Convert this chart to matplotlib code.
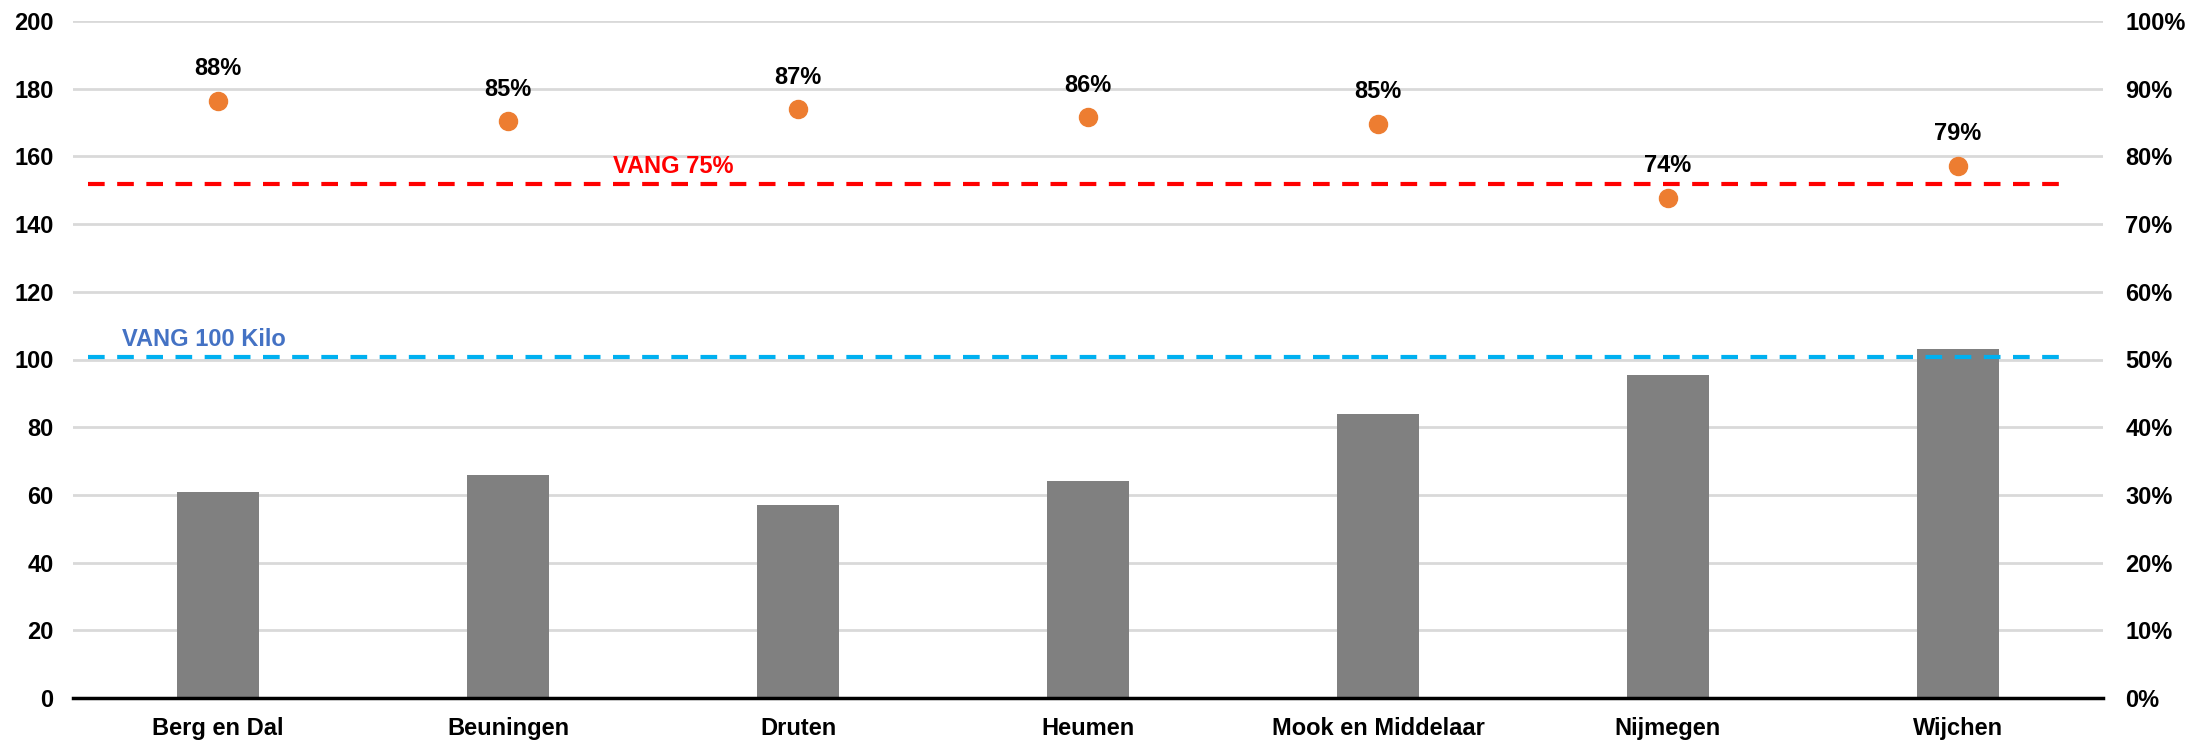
import matplotlib
matplotlib.use("Agg")
import matplotlib.pyplot as plt
from matplotlib.ticker import PercentFormatter, MultipleLocator

categories = ["Berg en Dal", "Beuningen", "Druten", "Heumen", "Mook en Middelaar", "Nijmegen", "Wijchen"]
kilo = [61, 66, 57, 64, 84, 95.5, 103]
pct = [0.882, 0.852, 0.870, 0.858, 0.848, 0.739, 0.786]
pct_labels = ["88%", "85%", "87%", "86%", "85%", "74%", "79%"]
target_pct = 0.759
target_kilo = 100.8

plt.rcParams['font.family'] = ['Liberation Sans', 'DejaVu Sans']
plt.rcParams['font.weight'] = 'bold'

fig = plt.figure(figsize=(22.07, 7.41), dpi=100)
ax = fig.add_axes([73/2207, 1-698/741, (2103-73)/2207, (698-21)/741])
ax2 = ax.twinx()

x = list(range(len(categories)))
ax.set_axisbelow(True)
ax.bar(x, kilo, width=0.286, color='#808080', zorder=2)
ax.set_xlim(-0.5, 6.5)
ax.set_ylim(0, 200)
ax.yaxis.set_major_locator(MultipleLocator(20))
ax.grid(axis='y', color='#d9d9d9', linewidth=2, zorder=0)
ax.set_xticks(x)
ax.set_xticklabels(categories, fontsize=17, fontweight='bold')
ax.tick_params(axis='x', length=0, pad=14)
ax.tick_params(axis='y', length=0, pad=14, labelsize=17)
for lab in ax.get_yticklabels():
    lab.set_fontweight('bold')
for s in ['top', 'right', 'left']:
    ax.spines[s].set_visible(False)
ax.spines['bottom'].set_linewidth(2.5)
ax.spines['bottom'].set_color('black')
ax.spines['bottom'].set_zorder(5)

ax.plot([-0.448, 6.355], [target_kilo, target_kilo], color='#00B0F0', linestyle=(0, (4, 3)), linewidth=3, zorder=3)
ax.text(-0.33, 105.8, "VANG 100 Kilo", color='#4472C4', fontsize=17, fontweight='bold', ha='left', va='center')

ax2.set_ylim(0, 1)
ax2.yaxis.set_major_locator(MultipleLocator(0.1))
ax2.yaxis.set_major_formatter(PercentFormatter(1.0, decimals=0))
ax2.tick_params(axis='y', length=0, pad=16, labelsize=17)
for lab in ax2.get_yticklabels():
    lab.set_fontweight('bold')
for s in ['top', 'right', 'left', 'bottom']:
    ax2.spines[s].set_visible(False)

ax2.plot([-0.448, 6.355], [target_pct, target_pct], color='#FF0000', linestyle=(0, (4, 3)), linewidth=3, zorder=3)
ax2.text(1.57, 0.785, "VANG 75%", color='#FF0000', fontsize=17, fontweight='bold', ha='center', va='center')
ax2.plot(x, pct, linestyle='none', marker='o', markersize=13, color='#ED7D31', zorder=4)
for xi, p, lab in zip(x, pct, pct_labels):
    ax2.annotate(lab, (xi, p), xytext=(0, 23), textcoords='offset points', ha='center', va='center',
                 fontsize=17, fontweight='bold', color='black')

fig.savefig("out.png", dpi=100)
